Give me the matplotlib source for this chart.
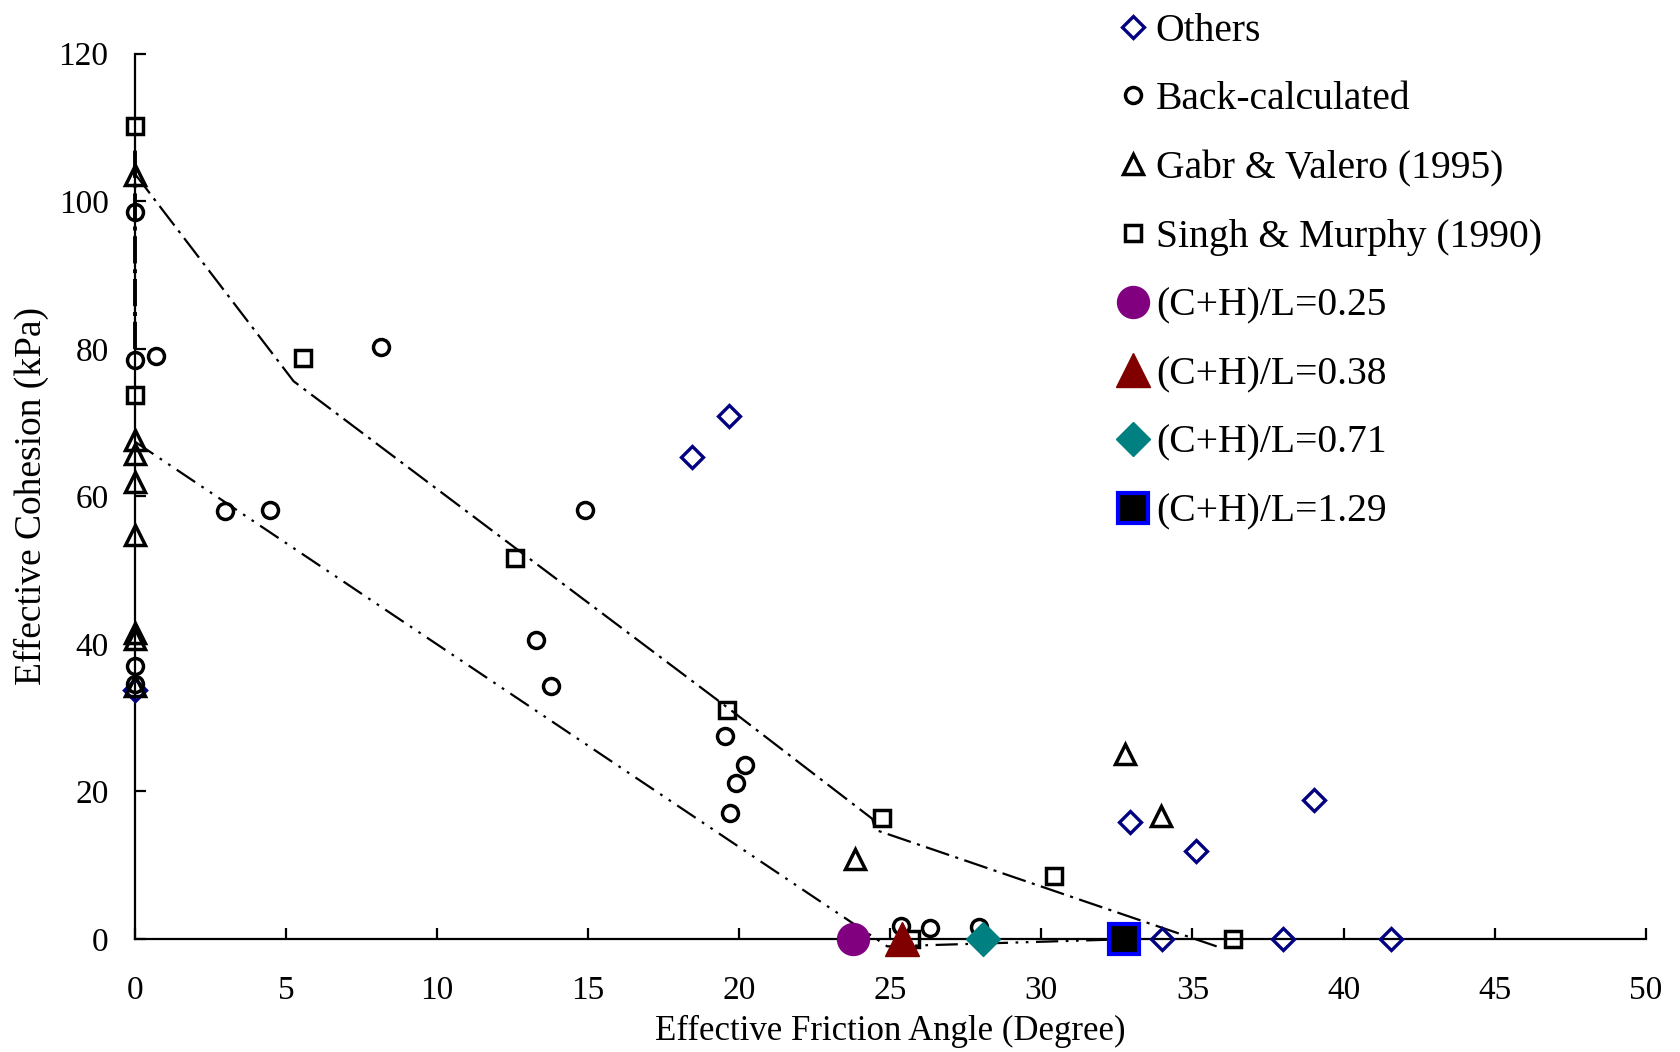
import matplotlib
matplotlib.use("Agg")
import matplotlib.pyplot as plt

plt.rcParams['font.family'] = ['Liberation Serif', 'DejaVu Serif']

# friction angle (deg) / cohesion (kPa) for each data set
others_phi = [0.0, 18.45, 19.67, 32.93, 35.1, 39.03, 33.98, 38.0, 41.56]
others_c = [33.8, 65.3, 70.9, 15.8, 11.9, 18.9, 0.0, 0.0, 0.0]

back_phi = [0.0, 0.0, 0.7, 8.13, 2.98, 4.47, 14.88, 13.26, 13.76,
            19.52, 20.2, 19.9, 19.7, 0.0, 0.0, 25.35, 26.3, 27.95]
back_c = [98.6, 78.5, 79.0, 80.2, 58.0, 58.2, 58.1, 40.5, 34.3,
          27.5, 23.6, 21.1, 17.1, 37.0, 34.6, 1.8, 1.5, 1.6]

gabr_phi = [0.0, 0.0, 0.0, 0.0, 0.0, 0.0, 0.0, 0.0, 23.83, 32.75, 33.96]
gabr_c = [103.5, 67.6, 65.7, 62.0, 54.8, 41.5, 40.6, 34.3, 10.9, 25.1, 16.7]

singh_phi = [0.0, 0.0, 5.57, 12.57, 19.6, 24.74, 30.41, 36.35, 25.7]
singh_c = [110.2, 73.7, 78.8, 51.6, 31.0, 16.4, 8.6, 0.0, 0.0]

# model results
ratio_labels = ['(C+H)/L=0.25', '(C+H)/L=0.38', '(C+H)/L=0.71', '(C+H)/L=1.29']
ratio_phi = [23.75, 25.4, 28.06, 32.72]
ratio_c = [0.0, 0.0, 0.0, 0.0]

# envelope lines
upper_phi = [0.0, 5.25, 19.6, 24.4, 24.5, 35.8]
upper_c = [103.7, 75.6, 31.4, 16.3, 14.8, -1.0]
axis_phi = [0.0, 0.0]
axis_c = [80.0, 107.0]
lower_phi = [0.0, 24.9, 33.0]
lower_c = [67.4, -1.0, 0.0]

fig = plt.figure(figsize=(16.81, 10.52), dpi=100)
ax = fig.add_axes([0.0803, 0.1074, 0.8987, 0.8416])

dashdot = (0, (11, 2.9, 1.4, 2.9))
dashdotdot = (0, (10, 3.4, 1.2, 3.4, 1.2, 3.4))
ax.plot(upper_phi, upper_c, color='black', lw=1.6, ls=dashdot, clip_on=False, zorder=2)
ax.plot(axis_phi, axis_c, color='black', lw=2.8, ls=(0, (7, 1.5, 1, 1.5)),
        clip_on=False, zorder=2.6)
ax.plot(lower_phi, lower_c, color='black', lw=1.6, ls=dashdotdot, clip_on=False, zorder=2)

handles = []
h, = ax.plot(others_phi, others_c, ls='none', marker='D', ms=11, mfc='none',
             mec='#000080', mew=2.4, clip_on=False, zorder=3, label='Others')
handles.append(h)
h, = ax.plot(back_phi, back_c, ls='none', marker='o', ms=11.5, mfc='none',
             mec='black', mew=2.5, clip_on=False, zorder=3, label='Back-calculated')
handles.append(h)
h, = ax.plot(gabr_phi, gabr_c, ls='none', marker='^', ms=14, mfc='none',
             mec='black', mew=2.5, clip_on=False, zorder=3, label='Gabr & Valero (1995)')
handles.append(h)
h, = ax.plot(singh_phi, singh_c, ls='none', marker='s', ms=12, mfc='none',
             mec='black', mew=2.5, clip_on=False, zorder=3, label='Singh & Murphy (1990)')
handles.append(h)

ratio_style = [
    dict(marker='o', ms=23, mfc='#800080', mec='#800080', mew=1),
    dict(marker='^', ms=24, mfc='#800000', mec='#800000', mew=1),
    dict(marker='D', ms=17, mfc='#008080', mec='#008080', mew=1),
    dict(marker='s', ms=21, mfc='black', mec='#0000FF', mew=3),
]
for lab, px, py, st in zip(ratio_labels, ratio_phi, ratio_c, ratio_style):
    h, = ax.plot([px], [py], ls='none', clip_on=False, zorder=4, label=lab, **st)
    handles.append(h)

ax.set_xlim(0, 50)
ax.set_ylim(0, 120)
ax.set_xticks(range(0, 51, 5))
ax.set_yticks(range(0, 121, 20))
for side in ['top', 'right']:
    ax.spines[side].set_visible(False)
for side in ['left', 'bottom']:
    ax.spines[side].set_linewidth(1.6)
ax.tick_params(axis='both', direction='in', length=8, width=1.6, labelsize=24)
ax.tick_params(axis='x', pad=26)
ax.tick_params(axis='y', pad=19)

ax.set_xlabel('Effective Friction Angle (Degree)', fontsize=25, labelpad=7)
ax.set_ylabel('Effective Cohesion (kPa)', fontsize=27, labelpad=7)

fig.legend(handles=handles, loc='upper left', bbox_to_anchor=(0.664, 0.988),
           frameon=False, fontsize=28.5, handlelength=0.85, handletextpad=0.15,
           labelspacing=0.80, borderpad=0, borderaxespad=0)

fig.savefig('out.png', dpi=100)
